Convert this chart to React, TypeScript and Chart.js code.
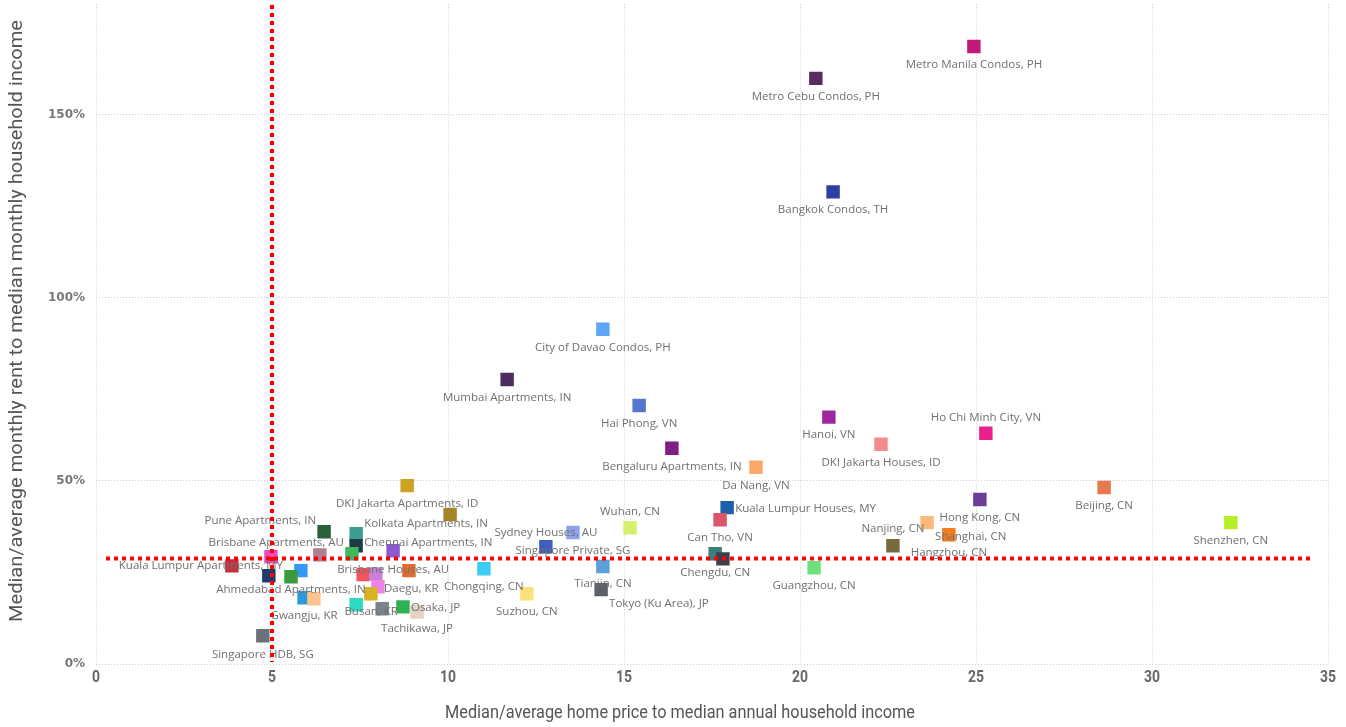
import React, { useEffect, useRef } from 'react';
import { Chart, registerables } from 'chart.js';

Chart.register(...registerables);

// ---- Data ----
const names: string[] = [
  'Metro Manila Condos, PH', 'Metro Cebu Condos, PH', 'Bangkok Condos, TH', 'City of Davao Condos, PH',
  'Mumbai Apartments, IN', 'Hai Phong, VN', 'Hanoi, VN', 'Ho Chi Minh City, VN',
  'DKI Jakarta Houses, ID', 'Bengaluru Apartments, IN', 'Da Nang, VN', 'DKI Jakarta Apartments, ID',
  'Beijing, CN', 'Hong Kong, CN', 'Kuala Lumpur Houses, MY', '',
  'Can Tho, VN', 'Shenzhen, CN', 'Shanghai, CN', 'Wuhan, CN',
  'Pune Apartments, IN', 'Singapore Private, SG', 'Hangzhou, CN', 'Kolkata Apartments, IN',
  'Sydney Houses, AU', 'Nanjing, CN', 'Chennai Apartments, IN', 'Brisbane Houses, AU',
  'Brisbane Apartments, AU', '', 'Chengdu, CN', '',
  '', '', 'Guangzhou, CN', 'Chongqing, CN',
  'Tianjin, CN', 'Ahmedabad Apartments, IN', '', '',
  '', '', 'Kuala Lumpur Apartments, MY', 'Daegu, KR',
  '', 'Suzhou, CN', 'Tokyo (Ku Area), JP', 'Gwangju, KR',
  '', '', 'Busan, KR', 'Osaka, JP',
  'Tachikawa, JP', 'Singapore HDB, SG',
];

const priceToIncome: number[] = [
  24.94, 20.45, 20.94, 14.40,
  11.68, 15.43, 20.82, 25.28,
  22.30, 16.36, 18.75, 8.84,
  28.64, 25.11, 17.93, 10.06,
  17.73, 32.24, 23.61, 15.17,
  6.48, 13.55, 24.23, 7.39,
  12.78, 22.64, 7.39, 8.44,
  7.27, 6.36, 17.59, 17.81,
  4.97, 3.86, 20.40, 11.02,
  14.40, 5.82, 8.89, 7.59,
  7.95, 4.91, 5.54, 8.01,
  7.81, 12.24, 14.35, 5.91,
  6.19, 7.39, 8.13, 8.72,
  9.12, 4.74,
];

const rentToIncome: number[] = [
  168.6, 159.9, 128.9, 91.4,
  77.7, 70.6, 67.4, 63.0,
  60.0, 58.9, 53.7, 48.7,
  48.2, 44.9, 42.7, 40.8,
  39.4, 38.6, 38.6, 37.2,
  36.1, 35.9, 35.3, 35.6,
  32.0, 32.3, 32.3, 30.9,
  30.1, 29.8, 30.1, 28.7,
  29.3, 26.8, 26.3, 26.0,
  26.6, 25.5, 25.5, 24.4,
  24.6, 24.1, 23.8, 21.1,
  19.2, 19.2, 20.3, 18.1,
  17.8, 16.2, 15.1, 15.6,
  14.2, 7.7,
];

const colors: string[] = [
  '#C2187A', '#5B2A63', '#2E3FA3', '#5DA5F5',
  '#4E2D63', '#5676CC', '#9C27A0', '#EC1E90',
  '#F58C8C', '#7F1F86', '#FAA76A', '#CBA320',
  '#E8784E', '#6B3F98', '#1F60AD', '#A68428',
  '#DA5668', '#B5EF2A', '#FCB97A', '#D5F06A',
  '#2B603C', '#8EA3EF', '#F47B20', '#3D9C8E',
  '#3E5DBE', '#786A3A', '#1E3C46', '#8C59D2',
  '#3DBA5C', '#B07E8E', '#3A7F7E', '#3B404B',
  '#E84CC4', '#C2303B', '#70E07C', '#3CCCF5',
  '#5BA0D8', '#3399FF', '#DE6E2E', '#F2555C',
  '#C77FD8', '#1F3B6B', '#3A9A3C', '#EF82E6',
  '#D6B224', '#FCE07C', '#5B6068', '#2A9BD8',
  '#FCC38E', '#2ED9C2', '#7C818B', '#2EB152',
  '#E3D3C3', '#6B7178',
];

// label placement: [mode, dx, dy]  b=below, a=above, r=right, l=left, c=custom, n=none
const labelPlacement: Array<[string, number, number]> = [
  ['b', 0, 18], ['b', 0, 18], ['b', 0, 18], ['b', 0, 18],
  ['b', 0, 18], ['b', 0, 18], ['b', 0, 18], ['a', 0, -16],
  ['b', 0, 18], ['b', 0, 18], ['b', 0, 18], ['b', 0, 18],
  ['b', 0, 18], ['b', 0, 18], ['r', 8, 1], ['n', 0, 0],
  ['b', 0, 18], ['b', 0, 18], ['r', 8, 14], ['a', 0, -16],
  ['l', -8, -11], ['b', 0, 18], ['b', 0, 18], ['r', 8, -10],
  ['a', 0, -14], ['a', 0, -17], ['r', 8, -3], ['b', 0, 19],
  ['l', -8, -11], ['n', 0, 0], ['b', 0, 19], ['n', 0, 0],
  ['n', 0, 0], ['n', 0, 0], ['b', 0, 18], ['b', 0, 18],
  ['b', 0, 17], ['c', -10, 19], ['n', 0, 0], ['n', 0, 0],
  ['n', 0, 0], ['n', 0, 0], ['l', -8, -11], ['r', 6, 2],
  ['n', 0, 0], ['b', 0, 18], ['r', 8, 14], ['b', 0, 18],
  ['n', 0, 0], ['n', 0, 0], ['c', -11, 3], ['r', 8, 1],
  ['b', 0, 17], ['b', 0, 19],
];

const xTickValues: number[] = [0, 5, 10, 15, 20, 25, 30, 35];
const yTickValues: number[] = [0, 50, 100, 150];
const yAxisMax = 178.7;
const rentThreshold = 28.8;
const priceThreshold = 5;
const xTitle = 'Median/average home price to median annual household income';
const yTitle = 'Median/average monthly rent to median monthly household income';

const LABEL_FONT = "11.5px 'Open Sans', 'Noto Sans', sans-serif";

function drawCondensed(ctx: CanvasRenderingContext2D, text: string, x: number, y: number, targetWidth: number) {
  const w = ctx.measureText(text).width;
  const sx = targetWidth / w;
  ctx.save();
  ctx.translate(x, y);
  ctx.scale(sx, 1);
  ctx.fillText(text, 0, 0);
  ctx.restore();
}

const overlayPlugin = {
  id: 'overlay',
  beforeDatasetsDraw(chart: any) {
    // extend vertical grid lines up to the top edge
    const { ctx, chartArea, scales } = chart;
    ctx.save();
    ctx.strokeStyle = '#cccccc';
    ctx.lineWidth = 1;
    ctx.setLineDash([1, 2]);
    xTickValues.forEach((v) => {
      const px = Math.round(scales.x.getPixelForValue(v)) + 0.5;
      ctx.beginPath();
      ctx.moveTo(px, 4);
      ctx.lineTo(px, chartArea.top);
      ctx.stroke();
    });
    ctx.restore();
  },
  afterDatasetsDraw(chart: any) {
    const { ctx, chartArea, scales } = chart;
    const meta = chart.getDatasetMeta(0);
    ctx.save();
    ctx.font = LABEL_FONT;
    ctx.fillStyle = '#707070';
    ctx.textBaseline = 'middle';
    meta.data.forEach((pt: any, i: number) => {
      const text = names[i];
      const [mode, dx, dy] = labelPlacement[i];
      if (!text || mode === 'n') return;
      let align: CanvasTextAlign = 'center';
      if (mode === 'r') align = 'left';
      if (mode === 'l') align = 'right';
      ctx.textAlign = align;
      ctx.fillText(text, pt.x + dx, pt.y + dy);
    });
    // red reference lines
    ctx.strokeStyle = '#FF0000';
    ctx.lineWidth = 4;
    ctx.setLineDash([4, 4]);
    const yPix = scales.y.getPixelForValue(rentThreshold);
    ctx.beginPath();
    ctx.moveTo(chartArea.left + 10, yPix);
    ctx.lineTo(chartArea.right - 14, yPix);
    ctx.stroke();
    const xPix = scales.x.getPixelForValue(priceThreshold);
    ctx.beginPath();
    ctx.moveTo(xPix, 5);
    ctx.lineTo(xPix, chartArea.bottom - 2);
    ctx.stroke();
    ctx.restore();
  },
  afterDraw(chart: any) {
    const { ctx, scales, chartArea } = chart;
    ctx.save();
    // x tick labels (condensed bold)
    ctx.fillStyle = '#666666';
    ctx.textAlign = 'center';
    ctx.textBaseline = 'middle';
    ctx.font = "bold 17px Roboto, 'Noto Sans', sans-serif";
    xTickValues.forEach((v) => {
      const t = String(v);
      const px = scales.x.getPixelForValue(v);
      drawCondensed(ctx, t, px, chartArea.bottom + 14, ctx.measureText(t).width * 0.82);
    });
    // axis titles
    ctx.fillStyle = '#555555';
    ctx.font = "19px Roboto, 'Noto Sans', sans-serif";
    drawCondensed(ctx, xTitle, 680, 713, 470);
    ctx.translate(17, 321);
    ctx.rotate(-Math.PI / 2);
    drawCondensed(ctx, yTitle, 0, 0, 602);
    ctx.restore();
  },
};

export default function App() {
  const canvasRef = useRef<HTMLCanvasElement | null>(null);

  useEffect(() => {
    document.body.style.margin = '0';
    const canvas = canvasRef.current;
    if (!canvas) return;
    const points = priceToIncome.map((x, i) => ({ x, y: rentToIncome[i] }));
    const chart = new Chart(canvas, {
      type: 'scatter',
      data: {
        datasets: [
          {
            data: points,
            pointStyle: 'rect',
            pointRadius: 9.5,
            pointHoverRadius: 9.5,
            pointBackgroundColor: colors,
            pointBorderWidth: 0,
            borderWidth: 0,
          },
        ],
      },
      options: {
        animation: false,
        responsive: false,
        devicePixelRatio: 1,
        layout: { padding: { top: 0, right: 18, left: 0, bottom: 0 } },
        plugins: {
          legend: { display: false },
          tooltip: { enabled: false },
        },
        scales: {
          x: {
            type: 'linear',
            min: 0,
            max: 35,
            border: { display: false, dash: [1, 2] },
            grid: { color: '#cccccc', drawTicks: false },
            ticks: { stepSize: 5, display: false },
            afterFit(scale: any) {
              scale.height = 63;
              scale.paddingLeft = 0;
              scale.paddingRight = 0;
            },
          },
          y: {
            type: 'linear',
            min: 0,
            max: yAxisMax,
            border: { display: false, dash: [1, 2] },
            grid: { color: '#cccccc', drawTicks: false },
            afterBuildTicks(scale: any) {
              scale.ticks = yTickValues.map((v) => ({ value: v }));
            },
            ticks: {
              padding: 11,
              color: '#777777',
              font: { family: "'DejaVu Sans', sans-serif", size: 12, weight: 'bold' },
              callback: (v: any) => `${v}%`,
            },
            afterFit(scale: any) {
              scale.width = 96;
              scale.paddingTop = 0;
              scale.paddingBottom = 0;
            },
          },
        },
      },
      plugins: [overlayPlugin],
    } as any);
    return () => chart.destroy();
  }, []);

  return (
    <div style={{ width: 1346, height: 727 }}>
      <canvas ref={canvasRef} width={1346} height={727} />
    </div>
  );
}
